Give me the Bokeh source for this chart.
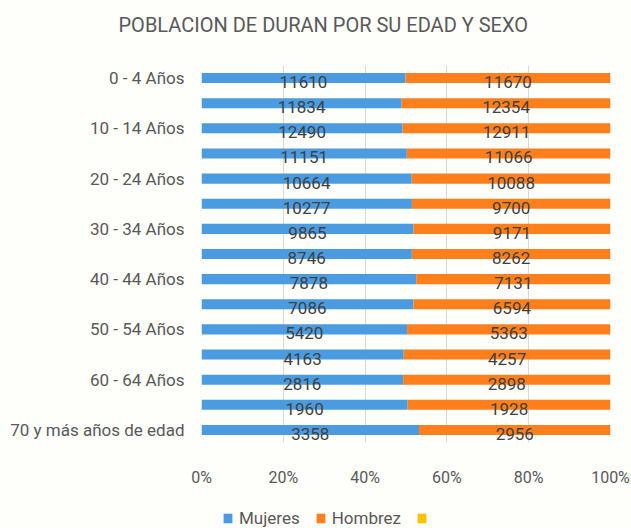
import numpy as np
from bokeh.plotting import figure
from bokeh.layouts import column
from bokeh.models import (ColumnDataSource, Range1d, FixedTicker,
                          NumeralTickFormatter, Legend, LegendItem, Title)
from bokeh.core.properties import value
from bokeh.embed import file_html
from bokeh.resources import INLINE

# ---- data ----
categories = ["0 - 4 Años", "5 - 9 Años", "10 - 14 Años", "15 - 19 Años",
              "20 - 24 Años", "25 - 29 Años", "30 - 34 Años", "35 - 39 Años",
              "40 - 44 Años", "45 - 49 Años", "50 - 54 Años", "55 - 59 Años",
              "60 - 64 Años", "65 - 69 Años", "70 y más años de edad"]
shown_labels = ["0 - 4 Años", "10 - 14 Años", "20 - 24 Años", "30 - 34 Años",
                "40 - 44 Años", "50 - 54 Años", "60 - 64 Años",
                "70 y más años de edad"]
mujeres = [11610, 11834, 12490, 11151, 10664, 10277, 9865, 8746,
           7878, 7086, 5420, 4163, 2816, 1960, 3358]
hombrez = [11670, 12354, 12911, 11066, 10088, 9700, 9171, 8262,
           7131, 6594, 5363, 4257, 2898, 1928, 2956]
tercera = [0] * 15
series_names = ["Mujeres", "Hombrez", " "]
x_ticks = [0, 0.2, 0.4, 0.6, 0.8, 1.0]

FONT = "Roboto"
BLUE = "#4A9BE0"
ORANGE = "#FF7F1C"
YELLOW = "#FFC000"
COLORS = [BLUE, ORANGE, YELLOW]
BG = "#FEFEFB"


def strip(height, top=0):
    f = figure(width=631, height=height, output_backend="svg", toolbar_location=None,
               x_range=Range1d(0, 1), y_range=Range1d(0, 1),
               x_axis_location=None, y_axis_location=None,
               min_border=0, min_border_left=0, min_border_right=0,
               min_border_top=top, min_border_bottom=0,
               background_fill_color=BG, border_fill_color=BG,
               outline_line_color=None)
    f.xgrid.visible = False
    f.ygrid.visible = False
    return f


# ---- title strip ----
tf = strip(45, top=44)
tf.add_layout(Title(text="POBLACION DE DURAN POR SU EDAD Y SEXO", align="left",
                    offset=-83, standoff=16, text_font=FONT, text_font_size="20px",
                    text_font_style="normal", text_color="#595959"), "above")

# ---- main chart ----
m = np.array(mujeres, dtype=float)
h = np.array(hombrez, dtype=float)
z = np.array(tercera, dtype=float)
tot = m + h + z
pos = list(range(len(categories)))
src = ColumnDataSource(dict(
    pos=pos, m=m / tot, h=h / tot, z=z / tot,
    m_mid=(m / tot) / 2, h_mid=(m / tot) + (h / tot) / 2,
    m_lab=[str(v) for v in mujeres], h_lab=[str(v) for v in hombrez],
))

p = figure(width=631, height=453, output_backend="svg", toolbar_location=None,
           y_range=Range1d(len(categories) - 0.5, -0.5),
           x_range=Range1d(0, 1),
           min_border_left=201, min_border_right=21, min_border_top=20,
           min_border_bottom=56,
           background_fill_color=BG, border_fill_color=BG,
           outline_line_color=None)

rs = p.hbar_stack(["m", "h", "z"], y="pos", height=0.4, source=src,
                  color=COLORS, line_color=None)

for xf, lf in (("m_mid", "m_lab"), ("h_mid", "h_lab")):
    p.text(x=xf, y="pos", text=lf, source=src, text_align="center",
           text_baseline="middle", y_offset=4, text_font=value(FONT),
           text_font_size="17px", text_color="#404040")

p.xaxis.ticker = FixedTicker(ticks=x_ticks)
p.xaxis.formatter = NumeralTickFormatter(format="0%")
p.yaxis.ticker = FixedTicker(ticks=[categories.index(c) for c in shown_labels])
p.yaxis.major_label_overrides = {categories.index(c): c for c in shown_labels}
for ax in (p.xaxis, p.yaxis):
    ax.axis_line_color = None
    ax.major_tick_line_color = None
    ax.minor_tick_line_color = None
    ax.major_tick_out = 0
    ax.major_tick_in = 0
    ax.major_label_text_font = FONT
    ax.major_label_text_color = "#595959"
p.xaxis.major_label_text_font_size = "16px"
p.yaxis.major_label_text_font_size = "17px"
p.xaxis.major_label_standoff = 25
p.yaxis.major_label_standoff = 17

p.xgrid.ticker = FixedTicker(ticks=x_ticks)
p.xgrid.grid_line_color = "#D9D9D9"
p.ygrid.grid_line_color = None

# ---- legend strip ----
lg = strip(30)
# zero-width placeholder bars that only lend their colours to the legend
dummy = ColumnDataSource(dict(y=[0.5], left=[0], right=[0]))
lrs = [lg.hbar(y="y", left="left", right="right", height=0.5, source=dummy,
               color=c, line_color=None) for c in COLORS]
legend = Legend(items=[LegendItem(label=n, renderers=[r]) for n, r in zip(series_names, lrs)],
                orientation="horizontal", location=(21, 0),
                background_fill_alpha=0, border_line_color=None,
                label_text_font=FONT, label_text_font_size="17px",
                label_text_color="#595959", glyph_width=11, glyph_height=12,
                label_standoff=6, spacing=15, padding=0, margin=0)
lg.add_layout(legend, "center")

open("out.html", "w").write(file_html(column(tf, p, lg, spacing=0), INLINE))
